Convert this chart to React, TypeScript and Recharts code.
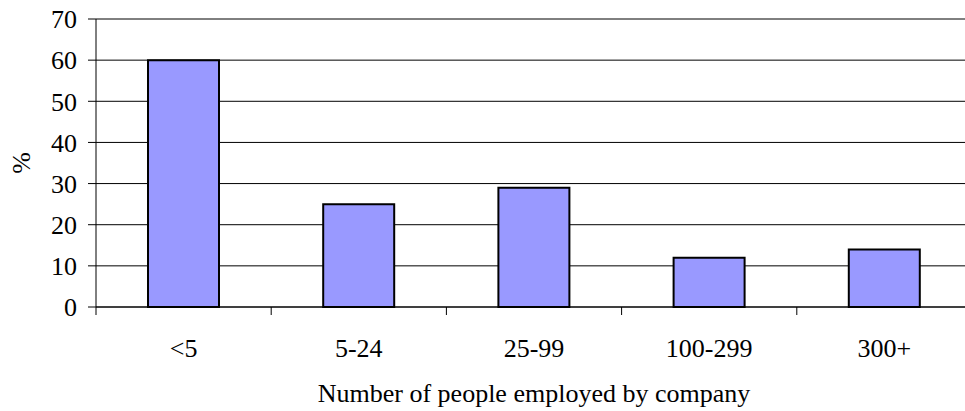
import React from 'react';
import { BarChart, Bar, XAxis, YAxis, CartesianGrid } from 'recharts';

// Share of companies by headcount band (%)
const sizeBands: string[] = ['<5', '5-24', '25-99', '100-299', '300+'];
const sharePercent: number[] = [60, 25, 29, 12, 14];
const yTicks: number[] = [0, 10, 20, 30, 40, 50, 60, 70];

const chartData = sizeBands.map((band, i) => ({ band, share: sharePercent[i] }));

const FONT = '"Liberation Serif", "Times New Roman", serif';

// Category labels centred in each band, with tick marks on the band edges
const BandTick = (props: any) => {
  const { x, y, payload, index, visibleTicksCount } = props;
  const half: number = payload && typeof payload.offset === 'number' ? payload.offset : 0;
  const isLast = index === visibleTicksCount - 1;
  return (
    <g>
      <line x1={x - half} x2={x - half} y1={y} y2={y + 8} stroke="#000" strokeWidth={1} />
      {isLast && <line x1={x + half} x2={x + half} y1={y} y2={y + 8} stroke="#000" strokeWidth={1} />}
      <text x={x} y={y + 50} textAnchor="middle" fontFamily={FONT} fontSize={26} fill="#000">
        {payload.value}
      </text>
    </g>
  );
};

const PercentLabel = (props: any) => {
  const vb = props.viewBox || {};
  const cx = (vb.x || 0) + 21;
  const cy = (vb.y || 0) + (vb.height || 0) / 2;
  return (
    <text
      x={cx}
      y={cy}
      transform={`rotate(-90 ${cx} ${cy})`}
      textAnchor="middle"
      dominantBaseline="central"
      fontFamily={FONT}
      fontSize={26}
      fill="#000"
    >
      %
    </text>
  );
};

export default function App() {
  return (
    <div style={{ position: 'absolute', left: 0, top: 0, width: 965, height: 411, overflow: 'hidden', background: '#fff' }}>
      <BarChart
        width={980}
        height={411}
        data={chartData}
        margin={{ top: 19, right: 8, bottom: 0, left: 0 }}
        barSize={71}
      >
        <CartesianGrid vertical={false} stroke="#000" strokeWidth={1} strokeDasharray="" />
        <XAxis
          dataKey="band"
          height={104}
          axisLine={{ stroke: '#000', strokeWidth: 1 }}
          tickLine={false}
          tickSize={0}
          tickMargin={0}
          interval={0}
          tick={<BandTick />}
          label={{
            value: 'Number of people employed by company',
            position: 'insideBottom',
            offset: 9,
            style: { fontFamily: FONT, fontSize: 26, fill: '#000' },
          }}
        />
        <YAxis
          width={96}
          domain={[0, 70]}
          ticks={yTicks}
          interval={0}
          axisLine={{ stroke: '#000', strokeWidth: 1 }}
          tickLine={{ stroke: '#000', strokeWidth: 1 }}
          tickSize={8}
          tickMargin={11}
          tick={{ fontFamily: FONT, fontSize: 26, fill: '#000' }}
          label={<PercentLabel />}
        />
        <Bar dataKey="share" fill="#9999FF" stroke="#000" strokeWidth={2} isAnimationActive={false} />
      </BarChart>
    </div>
  );
}
